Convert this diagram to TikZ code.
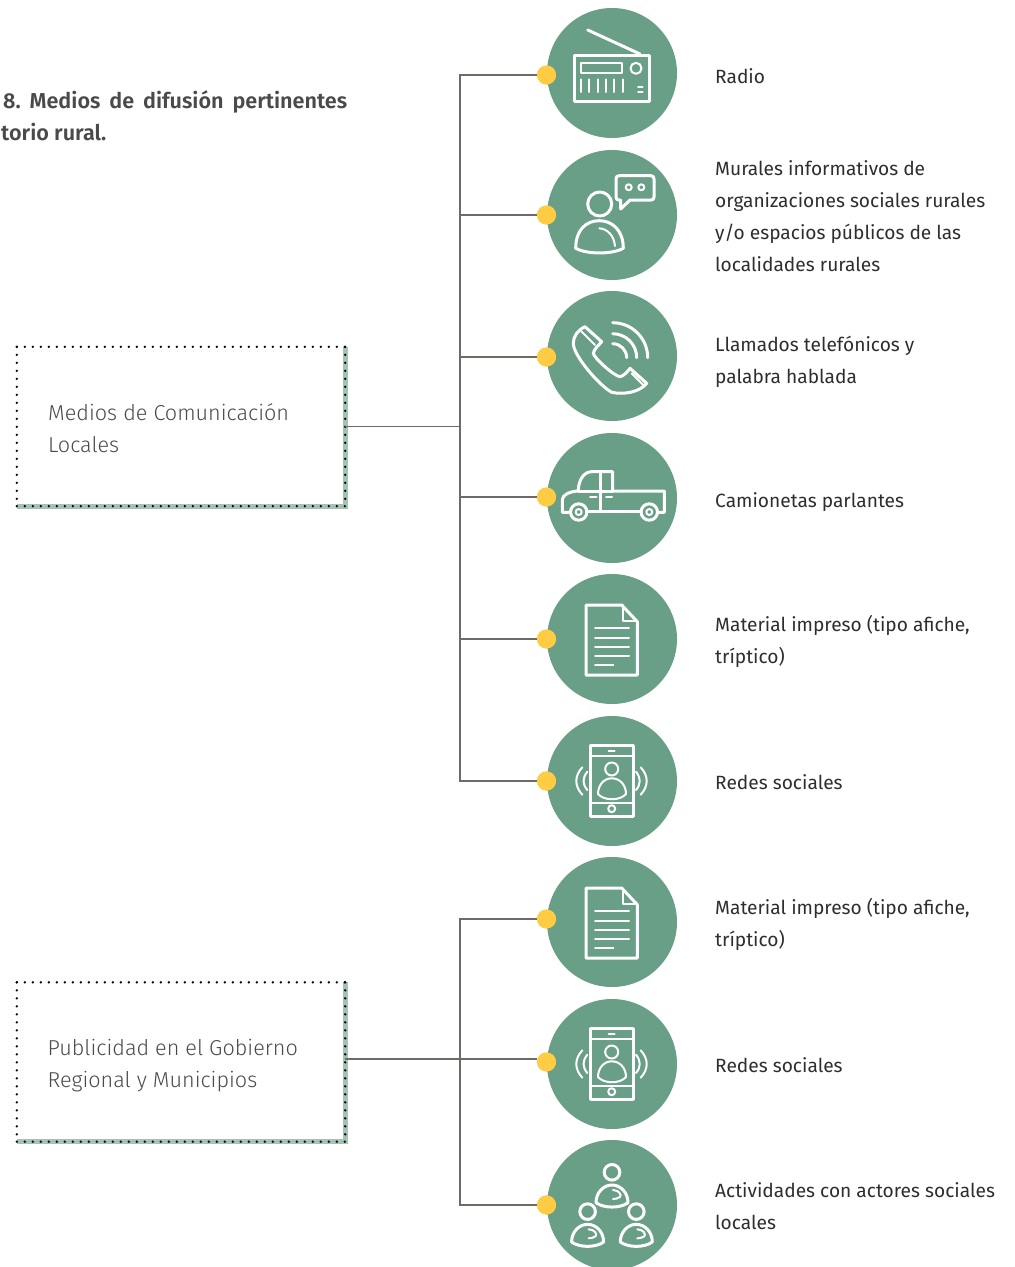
\documentclass[tikz,border=0pt]{standalone}
\usepackage{fontspec}
\setmainfont{Fira Sans}[BoldFont={* SemiBold}]
\newfontfamily\lightf{Fira Sans Light}
\newcommand{\rtxt}{\fontsize{19.15}{32}\selectfont}
\newcommand{\btxt}{\lightf\fontsize{21.6}{32}\selectfont}
\definecolor{gcirc}{HTML}{689F86}
\definecolor{gband}{HTML}{A5C3B3}
\definecolor{ydot}{HTML}{FFCC44}
\definecolor{wire}{HTML}{6E6A66}
\definecolor{rtext}{HTML}{2E2E2E}
\definecolor{ltext}{HTML}{4A4A4A}
\tikzset{
  disc/.style={circle,fill=gcirc,draw=none,minimum size=130pt,inner sep=0pt},
  ydisc/.style={circle,fill=ydot,draw=none,minimum size=19pt,inner sep=0pt},
  wirel/.style={draw=wire,line width=1.2pt},
  rlabel/.style={anchor=west,align=left,inner sep=0pt,text=rtext,font=\rtxt},
  boxn/.style={minimum width=328pt,minimum height=159pt,inner sep=0pt},
  boxt/.style={anchor=west,inner sep=0pt,align=left,text=ltext,font=\btxt},
  ico/.style={draw=white,line width=3pt,line join=round,line cap=round},
  icothin/.style={draw=white,line width=2pt,line join=round,line cap=round},
  band/.style={draw=gband,line width=5pt},
  dots/.style={draw=black,line width=2.6pt,line cap=round,dash pattern=on 0pt off 8pt},
  flip/.style={yscale=-1},
  pics/radioicon/.style={code={
    \draw[ico] (-38,-18) rectangle (37,28);
    \draw[ico] (-24.3,-43) -- (28,-19);
    \draw[icothin] (-31,-10) rectangle (10,0);
    \draw[icothin] (24,-4.7) circle (5.5);
    \foreach \q in {-31,-22.7,-14.4,-6,2.3,10.6} \draw[icothin] (\q,6.3) -- (\q,19);
    \draw[icothin] (26,14.3) -- (30.7,14.3);
    \draw[icothin] (26,19) -- (30.7,19);
  }},
  pics/speakicon/.style={code={
    \draw[ico] (-12.3,-11) circle (12);
    \draw[ico] (-36.3,33.3) .. controls (-36.3,15) and (-26,5.7) .. (-12.7,5.7) .. controls (0,5.7) and (11.3,15) .. (11.3,33.3) .. controls (0,39.5) and (-25,39.5) .. cycle;
    \draw[icothin] (-12.7,13.3) .. controls (-4,14) and (2,21) .. (3,31);
    \draw[ico] (18,-15) -- (8.7,-6) -- (8.7,-15) -- (7,-15) .. controls (5,-15) and (4,-16) .. (4,-18) -- (4,-36) .. controls (4,-38) and (5,-39.3) .. (7,-39.3) -- (39,-39.3) .. controls (41,-39.3) and (42,-38) .. (42,-36) -- (42,-18) .. controls (42,-16) and (41,-15) .. (39,-15) -- cycle;
    \draw[icothin] (16.7,-27.7) circle (3);
    \draw[icothin] (29.3,-27.7) circle (3);
  }},
  pics/phoneicon/.style={code={
    \draw[ico] (-27,-29.3) .. controls (-34,-26) and (-38.7,-20) .. (-38.7,-12.7) .. controls (-38.7,0) and (-12,30) .. (-0.3,36.3) .. controls (12,39) and (28,36) .. (34.7,27.3) -- (18,12.3) .. controls (16,15) and (12,20) .. (8,20.7) .. controls (2,20) and (-18,2) .. (-18.7,-2.7) .. controls (-18,-7) and (-13,-11) .. (-10.3,-14.3) -- cycle;
    \draw[icothin] (-30.3,-24.3) -- (-17,-11);
    \draw[icothin] (19.7,17.3) -- (31.3,29);
    \draw[ico] (0.7,-33.3) arc (270:360:35);
    \draw[ico] (0.7,-22.3) arc (270:360:24);
    \draw[ico] (0.7,-12.3) arc (270:360:14);
  }},
  pics/truckicon/.style={code={
    \draw[ico] (-43,14.3) -- (-49.7,14.3) -- (-49.7,2) .. controls (-49.7,-3) and (-43,-6.5) .. (-33.7,-7) .. controls (-33.7,-18) and (-28,-26.3) .. (-20.3,-26.3) -- (0.7,-26.3) -- (0.7,-7) -- (52.3,-7) -- (52.3,14.3) -- (47,14.3);
    \draw[ico] (-23.7,13.7) -- (28,13.7);
    \draw[ico] (-33.7,-7) -- (0.7,-7);
    \draw[ico] (-12,-24.7) -- (-12,13.7);
    \draw[icothin] (-22,-1) -- (-15.3,-1);
    \draw[icothin] (-6,-1) -- (0,-1);
    \draw[ico,fill=gcirc] (-33.3,14) circle (8.2);
    \draw[icothin,fill=gcirc] (-33.3,14) circle (3);
    \draw[ico,fill=gcirc] (37.3,14) circle (8.2);
    \draw[icothin,fill=gcirc] (37.3,14) circle (3);
  }},
  pics/docicon/.style={code={
    \draw[ico] (-26,-34) -- (9.7,-34) -- (25.3,-17.3) -- (25.3,36) -- (-26,36) -- cycle;
    \draw[icothin] (10.7,-32.3) -- (10.7,-18.3) -- (25.3,-18.3);
    \foreach \q in {-10.7,-1.3,7.7,17} \draw[icothin] (-17,\q) -- (17,\q);
    \draw[icothin] (-17,26) -- (1.3,26);
  }},
  pics/mobileicon/.style={code={
    \draw[ico] (-22,-36) rectangle (21.3,35.7);
    \draw[icothin] (-22,-25) -- (21.3,-25);
    \draw[icothin] (-22,22.3) -- (21.3,22.3);
    \draw[icothin] (-3.3,-30) -- (2.7,-30);
    \draw[icothin] (-0.3,27.7) circle (3.5);
    \draw[icothin] (-0.3,-12) circle (6.5);
    \draw[icothin] (-14,13) .. controls (-14,4) and (-8,-2.7) .. (-0.3,-2.7) .. controls (8,-2.7) and (14,4) .. (14,13) .. controls (8,20) and (-8,20) .. cycle;
    \draw[icothin] (-24.7,-9.3) .. controls (-29.7,-3) and (-29.7,3) .. (-24.7,9);
    \draw[icothin] (-29.7,-13.7) .. controls (-37.7,-5) and (-37.7,5) .. (-29.7,13.7);
    \draw[icothin] (24,-9.3) .. controls (29,-3) and (29,3) .. (24,9);
    \draw[icothin] (28.7,-13.7) .. controls (36.7,-5) and (36.7,5) .. (28.7,13.7);
  }},
  pics/dude/.style={code={
    \draw[ico] (0,-32.7) circle (7.8);
    \draw[ico] (-16,-2.3) .. controls (-16,-13) and (-8,-20) .. (0,-20) .. controls (8,-20) and (16,-13) .. (16,-2.3) .. controls (8,3.5) and (-8,3.5) .. cycle;
    \draw[icothin] (1,-15) .. controls (7,-15) and (10,-10) .. (8,-8) .. controls (6,-6.5) and (3,-6) .. (1,-6);
  }},
}
\begin{document}
\begin{tikzpicture}[x=1pt,y=1pt,yscale=-1]
\useasboundingbox (0,0) rectangle (1015,1267);
% boxes
\node[boxn] (b1) at (181,426.5) {};
\node[boxn] (b2) at (181,1062) {};
\foreach \b in {b1,b2}{
  \draw[band] (\b.north east) -- (\b.south east) -- (\b.south west);
  \draw[dots] (\b.north west) -- (\b.north east);
  \draw[dots] (\b.north west) -- (\b.south west);
  \draw[dots] (\b.north east) -- (\b.south east);
  \draw[dots] (\b.south west) -- (\b.south east);
}
\node[boxt] (lb1) at (48,428) {Medios de Comunicación\\Locales};
\node[boxt] (lb2) at (47.5,1065.5) {Publicidad en el Gobierno\\Regional y Municipios};
% discs and dots
\foreach \n/\cy/\dy in {1/73/75,2/215/215,3/356/357,4/498/497,5/639/639,6/781/781,7/922/919,8/1064/1062,9/1205/1205}{
  \node[disc] (c\n) at (612,\cy) {};
  \node[ydisc] (d\n) at (546.5,\dy) {};
}
% trunks
\coordinate (t1) at (460,426.5);
\coordinate (t2) at (460,1059);
\draw[wirel] (t1 -| b1.east) -- (t1);
\draw[wirel] (d1.center) -| (t1);
\draw[wirel] (d6.center) -| (t1);
\foreach \n in {2,3,4,5} \draw[wirel] (d\n.center) -- (d\n.center -| t1);
\draw[wirel] (t2 -| b2.east) -- (t2 -| d8.west);
\draw[wirel] (d7.center) -| (t2);
\draw[wirel] (d9.center) -| (t2);
\foreach \n in {1,...,9} \node[ydisc] at (d\n) {};
% icons
\pic[flip] at (c1) {radioicon};
\pic[flip] at (c2) {speakicon};
\pic[flip] at (c3) {phoneicon};
\pic[flip] at (c4) {truckicon};
\pic[flip] at (c5) {docicon};
\pic[flip] at (c6) {mobileicon};
\pic[flip] at (c7) {docicon};
\pic[flip] at (c8) {mobileicon};
\coordinate (p9a) at (587.6,1244.3);
\coordinate (p9b) at (636.3,1244.3);
\pic[flip] at (c9) {dude};
\pic[flip] at (p9a) {dude};
\pic[flip] at (p9b) {dude};
% labels
\node[rlabel] (l1) at (715,76) {Radio};
\node[rlabel] (l2) at (715,216) {Murales informativos de\\organizaciones sociales rurales\\y/o espacios públicos de las\\localidades rurales};
\node[rlabel] (l3) at (715,362) {Llamados telefónicos y\\palabra hablada};
\node[rlabel] (l4) at (715,502) {Camionetas parlantes};
\node[rlabel] (l5) at (715,641) {Material impreso (tipo afiche,\\tríptico)};
\node[rlabel] (l6) at (715,782) {Redes sociales};
\node[rlabel] (l7) at (715,924) {Material impreso (tipo afiche,\\tríptico)};
\node[rlabel] (l8) at (715,1065) {Redes sociales};
\node[rlabel] (l9) at (715,1206) {Actividades con actores sociales\\locales};
% title
\node[anchor=west,inner sep=0pt,text=ltext,font=\fontsize{21.6}{32}\selectfont\bfseries] (h1) at (3,102) {\hbox to 344pt{8.\hfill Medios\hfill de\hfill difusión\hfill pertinentes}};
\node[anchor=west,inner sep=0pt,text=ltext,font=\fontsize{21.6}{32}\selectfont\bfseries] (h2) at (1,132) {torio rural.};
\end{tikzpicture}
\end{document}
